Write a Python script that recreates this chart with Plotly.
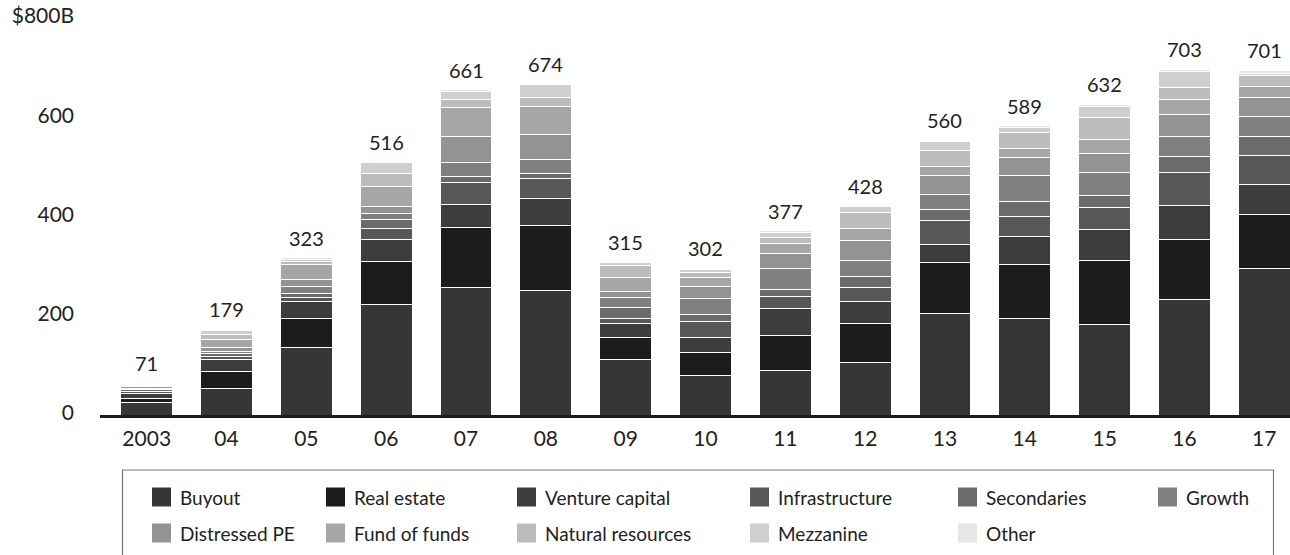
import plotly.graph_objects as go

# Capital raised per year, $B, by fund type
years = ["2003", "04", "05", "06", "07", "08", "09", "10", "11", "12", "13", "14", "15", "16", "17"]

buyout = [31, 60, 143, 228, 263, 256, 118, 85, 96, 112, 210, 201, 189, 238, 301]
real_estate = [8, 34, 57, 87, 121, 132, 44, 46, 71, 78, 104, 109, 129, 121, 110]
venture_capital = [10, 24, 35, 45, 47, 55, 29, 32, 54, 44, 35, 55, 61, 70, 60]
infrastructure = [4.5, 6, 8, 21, 44, 40, 9, 32, 24, 29, 49, 41, 45, 66, 58]
secondaries = [3, 5, 7, 20, 12, 9, 23, 13, 13, 23, 22, 30, 24, 32, 39]
growth = [3, 6, 16, 11, 28, 28, 19, 32, 44, 32, 30, 52, 47, 41, 40]
distressed_pe = [3, 8, 14, 14, 53, 52, 13, 24, 30, 39, 38, 36, 38, 43, 37]
fund_of_funds = [3, 16, 30, 41, 57, 56, 28, 20, 20, 24, 18, 20, 28, 30, 23]
natural_resources = [2, 10, 5, 26, 16, 17, 24, 9, 11, 34, 33, 32, 44, 25, 22]
mezzanine = [2, 7, 5, 22, 16, 27, 7, 6, 11, 11, 18, 9, 22, 32, 5]
other = [1.5, 3, 3, 1, 4, 2, 1, 3, 3, 2, 3, 4, 5, 5, 6]

series_names = ["Buyout", "Real estate", "Venture capital", "Infrastructure", "Secondaries",
                "Growth", "Distressed PE", "Fund of funds", "Natural resources", "Mezzanine", "Other"]
series_values = [buyout, real_estate, venture_capital, infrastructure, secondaries,
                 growth, distressed_pe, fund_of_funds, natural_resources, mezzanine, other]

y_ticks = [0, 200, 400, 600, 800]
y_tick_labels = ["0", "200", "400", "600", "$800B"]

# Styling
colors = ["#363636", "#1c1c1c", "#3c3c3c", "#575757", "#6b6b6b", "#808080",
          "#939393", "#a6a6a6", "#bcbcbc", "#cfcfcf", "#e6e6e6"]
NUM_FONT = "Lato, 'Noto Sans', sans-serif"
LEG_FONT = "Lato, 'Noto Sans', sans-serif"
TEXT = "#222222"

W, H = 1290, 555
ML, MR, MT, MB = 100, 0, 21, 137
PW, PH = W - ML - MR, H - MT - MB

fig = go.Figure()
for name, vals, col in zip(series_names, series_values, colors):
    fig.add_trace(go.Bar(
        x=years, y=vals, name=name,
        marker=dict(color=col, line=dict(color="white", width=1)),
        showlegend=False,
    ))

# Stack totals shown above each bar (x given as category index)
totals = [sum(v[i] for v in series_values) for i in range(len(years))]
for i, tot in enumerate(totals):
    fig.add_annotation(x=i, y=tot, text=f"{round(tot)}", showarrow=False,
                       yanchor="bottom", yshift=6,
                       font=dict(family=NUM_FONT, size=20, color=TEXT))

# Heavy baseline at zero
fig.add_shape(type="line", xref="paper", x0=0, x1=1, yref="y", y0=0, y1=0,
              line=dict(color="#1c1c1c", width=6), layer="above")


def px_x(px):
    return (px - ML) / PW


def px_y(py):
    return (H - MB - py) / PH


# Legend frame (open at the bottom edge of the page)
fig.add_shape(type="rect", xref="paper", yref="paper",
              x0=px_x(122.5), x1=px_x(1273.5), y0=px_y(600), y1=px_y(470),
              line=dict(color="#7a7a7a", width=1.2), fillcolor="rgba(0,0,0,0)", layer="above")

# Legend entries laid out on a two-row grid
col_left = [152, 326, 517, 750, 958, 1158]
row_mid = [497, 533]
for i, (name, col) in enumerate(zip(series_names, colors)):
    r, c = divmod(i, 6)
    sx, sy = col_left[c], row_mid[r]
    fig.add_shape(type="rect", xref="paper", yref="paper",
                  x0=px_x(sx), x1=px_x(sx + 19), y0=px_y(sy + 9.5), y1=px_y(sy - 9.5),
                  line=dict(width=0), fillcolor=col)
    fig.add_annotation(xref="paper", yref="paper", x=px_x(sx + 26), y=px_y(sy),
                       xanchor="left", yanchor="middle", text=name, showarrow=False,
                       font=dict(family=LEG_FONT, size=19, color=TEXT))

fig.update_layout(
    width=W, height=H,
    margin=dict(l=ML, r=MR, t=MT, b=MB),
    barmode="stack", bargap=0.352,
    plot_bgcolor="white", paper_bgcolor="white",
    xaxis=dict(type="category", range=[-0.585, 14.322], showgrid=False, zeroline=False,
               showline=False, ticks="", ticklabelstandoff=6,
               tickfont=dict(family=NUM_FONT, size=21, color=TEXT)),
    yaxis=dict(range=[0, 800], tickvals=y_ticks, ticktext=y_tick_labels, showgrid=False,
               zeroline=False, showline=False, ticks="", ticklabelstandoff=25,
               ticklabelshift=-5,
               tickfont=dict(family=NUM_FONT, size=21, color=TEXT)),
)

fig.write_html("out.html")
